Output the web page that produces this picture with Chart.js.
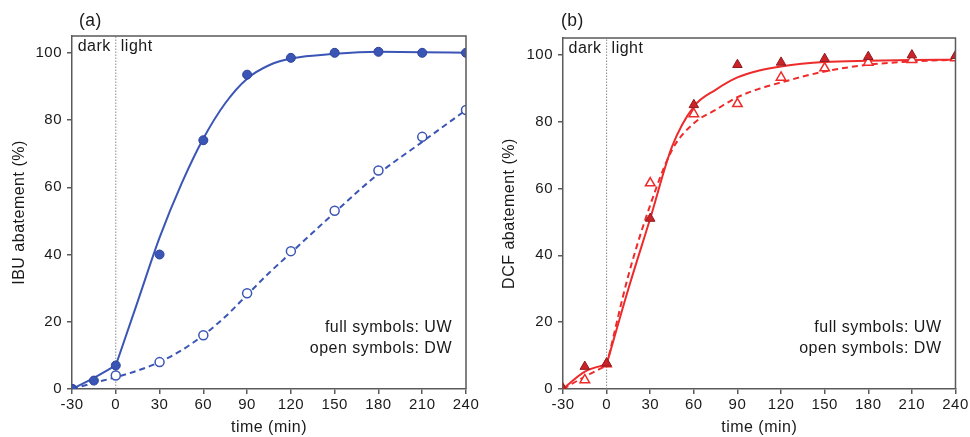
<!DOCTYPE html>
<html>
<head>
<meta charset="utf-8">
<script src="https://cdn.jsdelivr.net/npm/chart.js"></script>
<style>
  body { margin: 0; background: #fff; }
  .panel { position: absolute; top: 0; width: 485px; height: 437px; }
</style>
</head>
<body>
<div class="panel" style="left:0"><canvas id="chartA"></canvas></div>
<div class="panel" style="left:485px"><canvas id="chartB"></canvas></div>
<script>
// measured times (min)
const timePoints = [-30, -15, 0, 30, 60, 90, 120, 150, 180, 210, 240];

// (a) IBU abatement (%)
const ibuUW = [0, 2.5, 7, 40, 74, 93.5, 98.5, 100, 100.3, 100, 100];
const ibuDW = [0, null, 4, 8, 16, 28.5, 41, 53, 65, 75, 83];

// (b) DCF abatement (%)
const dcfUW = [0, 6.7, 7.7, 51, 85, 97, 97.7, 98.8, 99.4, 99.9, 99.7];
const dcfDW = [0, 2.7, 7.5, 61.6, 82.3, 85.3, 93.2, 96, 97.7, 98.5, 99];

// fitted curves
const fitDarkX = [-30, -15, 0];
const fitLightX = [0, 15, 30, 45, 60, 75, 90, 105, 120, 150, 180, 210, 240];
const fitAllX = [-30, -15, 0, 15, 30, 45, 60, 75, 90, 105, 120, 150, 180, 210, 240];

const ibuFitUWDark = [0, 3.3, 7];
const ibuFitUWLight = [7, 26, 45, 61, 74.5, 85, 92.3, 96.3, 98.3, 99.7, 100.3, 100.2, 100];
const ibuFitDW = [0, 1.8, 3.5, 5.5, 8, 11.5, 16, 21.5, 28, 34.5, 40.5, 52.5, 64, 73.5, 83];

const dcfFitUWDark = [0, 5.2, 7.4];
const dcfFitUWLight = [7.4, 30, 51, 72.5, 84.5, 89.5, 93.2, 95.3, 96.5, 97.8, 98.2, 98.4, 98.5];
const dcfFitDWDark = [0, 3.7, 7];
const dcfFitDWLight = [7, 34, 55, 71.5, 79.5, 83.5, 87.3, 89.8, 91.7, 95, 97, 98, 98.5];

const xTicks = [-30, 0, 30, 60, 90, 120, 150, 180, 210, 240];
const yTicks = [0, 20, 40, 60, 80, 100];

const FONT = "'Liberation Sans', Arial, sans-serif";
const AXIS = '#5a5a5a';
const TEXT = '#1a1a1a';

function pairs(xs, ys) {
  return xs.map((x, i) => ({ x: x, y: ys[i] })).filter(p => p.y !== null);
}

function lineSet(xs, ys, color, dashed) {
  return {
    type: 'line',
    data: pairs(xs, ys),
    borderColor: color,
    borderWidth: 2,
    borderDash: dashed ? [6, 4] : [],
    pointRadius: 0,
    cubicInterpolationMode: 'monotone',
    fill: false,
    order: 2
  };
}

const textPlugin = {
  id: 'panelText',
  beforeDraw(chart) {
    chart.ctx.letterSpacing = '0.5px';
  },
  afterDraw(chart, args, opts) {
    const ctx = chart.ctx;
    const area = chart.chartArea;
    const xs = chart.scales.x;
    const x0 = xs.getPixelForValue(0);
    ctx.save();
    // frame top / right
    ctx.strokeStyle = AXIS;
    ctx.lineWidth = 1.5;
    ctx.beginPath();
    ctx.moveTo(area.left, area.top);
    ctx.lineTo(area.right, area.top);
    ctx.lineTo(area.right, area.bottom);
    ctx.stroke();

    ctx.fillStyle = TEXT;
    ctx.textBaseline = 'middle';
    ctx.font = '17.5px ' + FONT;
    ctx.textAlign = 'left';
    ctx.fillText(opts.label, opts.labelX, 21);

    ctx.font = '16px ' + FONT;
    ctx.textAlign = 'right';
    ctx.fillText('dark', x0 - 5, area.top + 11);
    ctx.textAlign = 'left';
    ctx.fillText('light', x0 + 5, area.top + 11);

    ctx.textAlign = 'right';
    ctx.fillText('full symbols: UW', area.right - 14, 328);
    ctx.fillText('open symbols: DW', area.right - 14, 349);
    ctx.restore();
  }
};

function makeChart(id, cfg) {
  const datasets = [
    {
      type: 'line',
      data: [{ x: 0, y: 0 }, { x: 0, y: 105 }],
      borderColor: '#8a8a8a',
      borderWidth: 1,
      borderDash: [1.5, 1.5],
      pointRadius: 0,
      order: 3
    }
  ];
  cfg.lines.forEach(l => datasets.push(lineSet(l.x, l.y, cfg.color, l.dashed)));
  datasets.push({
    type: 'scatter',
    data: pairs(timePoints, cfg.dw),
    pointStyle: cfg.marker,
    pointRadius: cfg.radius,
    pointBackgroundColor: '#fff',
    pointBorderColor: cfg.color,
    pointBorderWidth: 1.5,
    order: 1
  });
  datasets.push({
    type: 'scatter',
    data: pairs(timePoints, cfg.uw),
    pointStyle: cfg.marker,
    pointRadius: cfg.radius,
    pointBackgroundColor: cfg.fill,
    pointBorderColor: cfg.edge,
    pointBorderWidth: 1,
    order: 0
  });

  return new Chart(document.getElementById(id), {
    type: 'scatter',
    data: { datasets: datasets },
    options: {
      responsive: true,
      maintainAspectRatio: false,
      animation: false,
      layout: { padding: { top: cfg.top, right: cfg.right, left: 0, bottom: 0 } },
      plugins: {
        legend: { display: false },
        tooltip: { enabled: false },
        panelText: { label: cfg.label, labelX: cfg.labelX }
      },
      scales: {
        x: {
          type: 'linear',
          min: -30,
          max: 240,
          afterBuildTicks: s => { s.ticks = xTicks.map(v => ({ value: v })); },
          afterFit: s => { s.height = 48; },
          ticks: { font: { family: FONT, size: 15 }, color: TEXT, padding: 2, maxRotation: 0 },
          grid: { drawOnChartArea: false, tickLength: 5, color: AXIS, lineWidth: 1.5 },
          border: { color: AXIS, width: 1.5 },
          title: { display: true, text: 'time (min)', font: { family: FONT, size: 16 }, color: TEXT, padding: { top: 0, bottom: 0 } }
        },
        y: {
          min: 0,
          max: 105,
          afterBuildTicks: s => { s.ticks = yTicks.map(v => ({ value: v })); },
          afterFit: s => { s.width = cfg.left; },
          ticks: { font: { family: FONT, size: 15 }, color: TEXT, padding: 5 },
          grid: { drawOnChartArea: false, tickLength: 5, color: AXIS, lineWidth: 1.5 },
          border: { color: AXIS, width: 1.5 },
          title: { display: true, text: cfg.yTitle, font: { family: FONT, size: 16 }, color: TEXT, padding: { top: cfg.titlePad, bottom: 0 } }
        }
      }
    },
    plugins: [textPlugin]
  });
}

makeChart('chartA', {
  label: '(a)', labelX: 79,
  yTitle: 'IBU abatement (%)',
  color: '#3a55b5', fill: '#3a55b5', edge: '#2c4399',
  marker: 'circle', radius: 4.5,
  uw: ibuUW, dw: ibuDW,
  lines: [
    { x: fitDarkX, y: ibuFitUWDark, dashed: false },
    { x: fitLightX, y: ibuFitUWLight, dashed: false },
    { x: fitAllX, y: ibuFitDW, dashed: true }
  ],
  top: 36, right: 19, left: 72, titlePad: 10
});

makeChart('chartB', {
  label: '(b)', labelX: 76,
  yTitle: 'DCF abatement (%)',
  color: '#ee2b2b', fill: '#cc2329', edge: '#8e1b1f',
  marker: 'triangle', radius: 5.5,
  uw: dcfUW, dw: dcfDW,
  lines: [
    { x: fitDarkX, y: dcfFitUWDark, dashed: false },
    { x: fitLightX, y: dcfFitUWLight, dashed: false },
    { x: fitDarkX, y: dcfFitDWDark, dashed: true },
    { x: fitLightX, y: dcfFitDWLight, dashed: true }
  ],
  top: 38, right: 13, left: 78, titlePad: 15
});
</script>
</body>
</html>
